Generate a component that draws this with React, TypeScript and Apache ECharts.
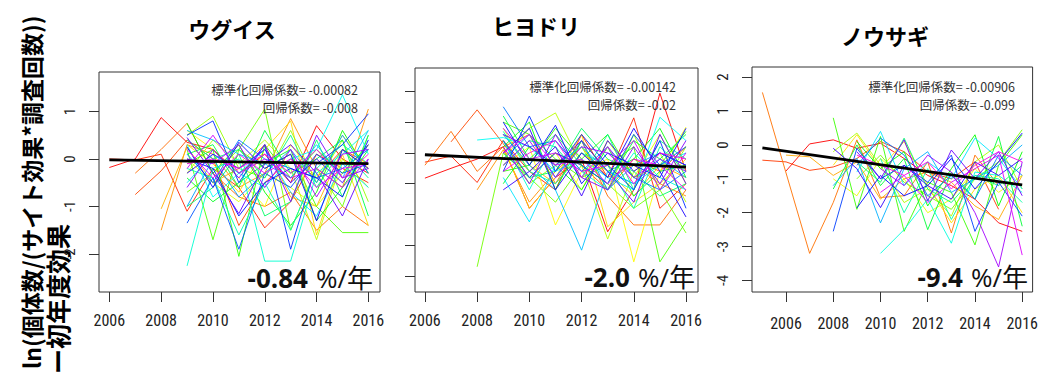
import React, { useEffect, useRef } from "react";
import * as echarts from "echarts";

// ---------- data ----------
const titles = ["ウグイス", "ヒヨドリ", "ノウサギ"];
const stdCoefLabels = ["標準化回帰係数= -0.00082", "標準化回帰係数= -0.00142", "標準化回帰係数= -0.00906"];
const coefLabels = ["回帰係数= -0.008", "回帰係数= -0.02", "回帰係数= -0.099"];
const rateValues = ["-0.84", "-2.0", "-9.4"];
const rateUnit = "%/年";
const yTitleLine1 = "ln(個体数/(サイト効果*調査回数))";
const yTitleLine2 = "ー初年度効果";

const xTickYears = [2006, 2008, 2010, 2012, 2014, 2016];
const yTicksUguisu = [-2, -1, 0, 1];
const yTicksHiyodori = [-2, -1.5, -1, -0.5, 0, 0.5, 1];
const yTicksNousagi = [-4, -3, -2, -1, 0, 1, 2];

// ウグイス
const uguisuStarts = [
  2006, 2006, 2007, 2007, 2008, 2008,
  2009, 2009, 2009, 2009, 2009, 2009, 2009, 2009, 2009, 2009, 2009, 2009, 2009, 2009, 2009,
  2009, 2009, 2009, 2009, 2009, 2009, 2009, 2009, 2009, 2009, 2009, 2009, 2009, 2009, 2009, 2009,
];
const uguisuValues: (number | null)[][] = [
  [-0.18, 0.0, 0.87, 0.35, 0.2, -0.3, 0.1, -0.5, 0.7, 0.0, -0.3],
  [0.0, -0.02, 0.1, -1.1, -0.2, -0.6, -1.45, -0.9, 0.1, -0.2, -0.5],
  [-0.75, -0.25, 0.4, 0.0, -1.4, -0.5, 0.0, -0.4, 0.2, -0.1],
  [-0.3, 0.2, 0.75, -0.3, -0.8, -1.0, -0.7, -1.5, -1.0, -1.4],
  [-1.5, 0.3, 0.1, -0.6, -0.3, 0.85, -0.2, -0.6, 1.05],
  [-1.05, 0.25, -0.5, -0.2, 0.3, -0.8, -1.0, 0.2, -0.2],
  [0.3, -0.1, -0.7, 0.2, 0.8, -1.6, 0.1, -1.4],
  [0.6, 0.2, -0.4, -1.0, 0.3, -0.4, 0.5, -0.2],
  [0.0, -0.5, -0.9, -0.3, -0.6, -1.0, -0.3, 0.3],
  [-0.3, 0.4, -0.1, 0.4, -0.2, -1.7, 0.0, -0.6],
  [0.5, 0.9, -0.2, -0.4, 0.6, -0.5, 0.4, -0.9],
  [-0.7, -0.3, 0.2, 1.05, -1.5, -0.2, -1.0, 0.5],
  [0.2, -1.7, 0.2, -0.2, 0.1, -1.0, -1.55, -1.55],
  [-0.1, 0.2, -2.05, 0.3, -0.4, 0.2, -0.3, 0.3],
  [0.75, -0.3, 0.3, -0.7, -1.4, -0.7, 0.6, -0.3],
  [-0.4, -0.9, -0.5, -0.1, 0.2, -1.3, -0.6, 0.2],
  [0.1, 0.3, -0.6, 0.6, -0.3, 0.0, 0.4, -1.2],
  [-1.0, -0.6, 0.1, -1.2, -0.9, 0.4, -0.8, 0.5],
  [0.4, 0.0, 0.2, -0.4, 0.5, -0.6, 0.2, -0.4],
  [-0.2, -0.4, -1.6, -0.5, -1.5, -0.2, 0.3, -0.1],
  [-2.25, -0.2, 0.0, -2.15, -2.15, -0.3, 0.1, 0.6],
  [0.3, -0.8, -0.3, -0.6, 0.0, 0.2, 1.35, 0.1],
  [-0.5, 0.1, -0.3, 0.2, -0.7, -1.2, -0.1, -0.6],
  [0.6, 0.4, 0.1, -0.1, -0.4, 0.3, -0.4, 0.6],
  [-1.0, 0.0, -0.8, -0.3, 0.2, -0.5, 0.5, -0.3],
  [0.1, -0.5, 0.4, 0.0, -0.2, -0.4, -0.2, 0.2],
  [-1.35, -0.4, -1.9, -0.3, -0.6, 0.1, -0.3, -0.1],
  [0.5, 0.8, -0.5, 0.3, -1.9, -0.1, 0.3, 0.95],
  [0.0, -0.2, -1.2, -0.5, -0.2, -0.4, -0.8, 0.4],
  [0.25, -0.6, 0.35, -0.2, 0.1, -1.3, 0.2, -0.2],
  [-0.3, 0.1, -0.2, 0.2, -0.5, 0.0, -0.5, 0.3],
  [0.45, -0.3, -1.15, -0.1, 0.3, -0.3, -1.2, 0.0],
  [-0.6, 0.2, -0.4, 0.3, -0.9, 0.5, -0.4, -0.2],
  [0.0, -0.1, 0.3, -0.6, 0.2, -0.8, 0.1, 0.2],
  [-0.2, 0.5, -0.3, 0.0, -0.4, -0.2, -0.6, 0.0],
  [0.2, -0.4, 0.1, -0.3, 0.0, -0.6, -0.2, -0.1],
  [-0.1, 0.0, -0.2, 0.1, -0.3, 0.2, -0.4, 0.1],
];
const uguisuTrend = [[2006, -0.02], [2016, -0.1]];

// ヒヨドリ
const hiyodoriStarts = [
  2006, 2006, 2007, 2006, 2008,
  2009, 2009, 2009, 2009, 2009, 2009, 2008, 2009, 2009, 2009, 2009, 2009, 2009, 2009, 2009,
  2009, 2008, 2009, 2009, 2009, 2009, 2009, 2009, 2009, 2009, 2009, 2009, 2009, 2009, 2009, 2009, 2009,
];
const hiyodoriValues: (number | null)[][] = [
  [-0.41, -0.25, -0.1, 0.1, -0.9, -0.4, -0.1, -1.28, -0.6, 0.97, -0.3],
  [-0.15, -0.05, -0.48, 0.2, -0.3, -0.6, 0.3, -0.4, 0.57, -0.9, -0.5],
  [0.18, 0.7, 0.15, -0.4, 0.0, -0.2, -0.6, -0.1, -0.3, 0.1],
  [-0.2, 0.35, -0.3, 0.1, 0.3, -0.5, 0.2, -0.7, -1.17, -1.17, -0.6],
  [-0.6, 0.05, -0.8, -0.3, 0.1, -0.4, -0.2, -0.5, -0.7],
  [0.3, -0.2, -0.5, 0.0, -0.3, -0.7, -0.2, -0.4],
  [0.1, -0.9, -0.4, 0.3, -1.2, -0.8, -0.5, -0.1],
  [-0.2, 0.1, -1.17, -0.3, -0.1, -1.77, -0.3, 0.42],
  [0.4, -0.3, 0.0, -0.6, 0.2, -0.4, 0.3, -0.5],
  [-0.1, 0.4, 0.65, -0.2, -1.4, -0.3, 0.0, -0.8],
  [0.2, -0.5, -0.2, 0.1, -0.6, 0.3, -0.6, 0.1],
  [-1.85, 0.0, -0.4, -0.8, -0.2, -0.5, -0.9, -0.6, -1.3],
  [0.5, 0.3, -0.1, -0.4, -0.2, 0.1, -1.77, -1.12],
  [-0.3, -0.2, 0.4, -0.1, 0.3, -0.4, -0.2, 0.35],
  [0.1, 0.5, -0.6, 0.2, -0.3, -0.1, 0.4, -0.4],
  [-0.5, 0.1, -0.2, -0.6, 0.1, -0.7, -0.3, -0.2],
  [0.6, -0.1, 0.3, -0.2, -0.5, 0.2, -0.1, 0.3],
  [0.0, -0.4, -0.3, 0.4, -0.1, -0.3, -0.7, -0.5],
  [-0.2, 0.2, 0.1, -0.4, 0.3, -0.6, 0.2, -0.1],
  [0.35, -0.3, -0.5, 0.0, -0.2, -0.9, 0.1, -0.3],
  [0.2, -0.6, 0.2, -0.3, -0.6, 0.0, -0.4, -0.6],
  [0.21, 0.25, 0.1, -0.3, -0.1, -0.4, -0.6, 0.58, 0.2],
  [-0.4, -1.12, -0.2, 0.1, -0.3, -0.5, -0.2, 0.0],
  [0.3, -0.2, -0.6, -1.58, -0.3, -0.5, -0.1, -0.4],
  [-0.1, 0.3, -0.4, 0.2, -0.6, -0.2, 0.0, -0.2],
  [0.75, 0.1, 0.2, -0.3, 0.1, -0.4, -0.6, -0.3],
  [0.2, -0.4, 0.0, -0.2, -0.5, 0.3, -0.2, 0.1],
  [-0.3, 0.6, -0.3, 0.3, -0.2, -0.6, 0.2, -0.9],
  [0.5, -0.2, 0.45, -0.5, 0.0, -0.2, -0.4, 0.4],
  [0.0, 0.4, -0.6, 0.0, -0.4, 0.4, -0.3, -1.04],
  [-0.6, -0.3, 0.1, -0.7, 0.2, -0.3, 0.0, -0.2],
  [0.3, 0.1, -0.2, 0.2, -0.3, -0.8, 0.3, -0.5],
  [0.1, -0.5, 0.3, -0.4, -0.6, 0.1, -0.5, 0.2],
  [-0.2, 0.2, -0.4, 0.1, 0.0, -0.4, -0.1, -0.3],
  [0.4, -0.1, 0.0, -0.3, -0.2, 0.2, -0.6, 0.0],
  [0.0, 0.3, -0.2, -0.1, -0.5, -0.1, -0.2, -0.6],
  [-0.3, 0.0, 0.2, -0.4, 0.1, -0.5, 0.0, -0.1],
];
const hiyodoriTrend = [[2006, -0.03], [2016, -0.23]];

// ノウサギ
const nousagiStarts = [
  2006, 2005, 2005, 2006, 2008, 2008, 2008, 2009, 2008, 2009, 2008, 2009,
  2010, 2010, 2009, 2008, 2009, 2008, 2009, 2008, 2009, 2010, 2010, 2009,
];
const nousagiValues: (number | null)[][] = [
  [-0.77, 0.03, 0.15, -0.1, 0.05, -0.4, -0.9, -1.2, -1.6, -2.3, -2.55],
  [-0.45, -0.5, -0.75, -0.65, -0.4, 0.1, -0.2, -0.8, -1.0, -0.5, -1.9],
  [1.55, null, -3.2, -1.7, 0.15, -1.55, -1.5, -0.5, -2.6, -0.3, -1.2],
  [-0.3, -0.35, -0.9, -0.5, -1.6, -1.0, -0.8, -1.1, -1.8, -2.2, -0.9],
  [-0.6, 0.3, -0.7, 0.1, -1.2, -2.3, -1.3, -0.9, -2.0],
  [-1.0, -1.5, -0.4, -1.0, -2.0, -1.6, -0.7, -1.4, -0.9],
  [-0.2, 0.35, -0.6, -1.7, -1.3, -2.1, -0.5, 0.0, -1.3],
  [-1.0, -0.3, -1.1, -1.5, -1.9, -1.0, -0.5, 0.45],
  [0.8, -1.9, 0.25, -2.55, -1.1, -1.4, -2.95, -0.6, 0.3],
  [0.1, -0.7, -0.2, -1.8, -0.7, 0.3, -1.8, -0.2],
  [-1.3, 0.0, -1.2, -0.4, -2.5, -0.8, -1.6, 0.25, -2.4],
  [-0.5, -1.1, 0.2, -1.3, -1.7, -0.9, -1.2, -0.6],
  [-0.4, -2.0, -0.7, -2.2, -0.9, -1.0, -1.7],
  [-3.2, -2.5, -1.6, -2.9, -0.8, -0.9, -1.4],
  [-0.8, 0.4, -1.2, -0.5, -1.0, 0.2, -0.4, -1.3],
  [-1.2, -0.4, -2.3, -0.7, -0.2, -1.4, -1.0, -0.6, 0.0],
  [-0.6, 0.2, -0.3, -1.5, -0.9, -1.6, -0.3, -0.9],
  [-2.55, -0.1, -1.0, -0.6, -1.1, -0.3, -2.55, -1.1, -2.1],
  [-1.86, -0.9, -1.5, -1.2, -0.4, -1.3, -0.5, 0.35],
  [-0.1, -0.7, -1.85, -0.6, -1.2, -1.6, -0.5, -0.9, -0.4],
  [-0.2, -1.0, 0.15, -1.65, -0.15, -1.0, -0.2, -1.5],
  [-0.7, -1.2, -0.3, -0.8, -2.0, -3.6, -0.5],
  [-1.4, -0.9, -1.7, -1.1, -0.7, -0.3, -3.25],
  [-0.3, -0.6, -0.9, -0.5, -1.3, -0.6, -0.2, -0.5],
];
const nousagiTrend = [[2005, -0.09], [2016, -1.18]];

// ---------- layout ----------
const panels = [
  {
    starts: uguisuStarts, values: uguisuValues, trend: uguisuTrend, yTicks: yTicksUguisu,
    grid: { left: 99, top: 72, width: 281, height: 220 },
    xMin: 2005.6, xMax: 2016.45, yMin: -2.8, yMax: 1.83, showYLabels: true,
    title: { x: 232, y: 28 }, ann: { x: 358, y1: 89, y2: 107 }, rate: { x: 373, y: 278 }, xLabelMargin: 20,
  },
  {
    starts: hiyodoriStarts, values: hiyodoriValues, trend: hiyodoriTrend, yTicks: yTicksHiyodori,
    grid: { left: 415, top: 68, width: 283, height: 224 },
    xMin: 2005.62, xMax: 2016.46, yMin: -2.26, yMax: 1.38, showYLabels: false,
    title: { x: 536, y: 25 }, ann: { x: 676, y1: 86, y2: 104 }, rate: { x: 695, y: 277 }, xLabelMargin: 20,
  },
  {
    starts: nousagiStarts, values: nousagiValues, trend: nousagiTrend, yTicks: yTicksNousagi,
    grid: { left: 752, top: 67, width: 283, height: 225 },
    xMin: 2004.56, xMax: 2016.44, yMin: -4.34, yMax: 2.3, showYLabels: true,
    title: { x: 885, y: 35 }, ann: { x: 1015, y1: 86, y2: 104 }, rate: { x: 1028, y: 277 }, xLabelMargin: 23,
  },
];

const narrowFont = '"Liberation Sans Narrow", "Roboto Condensed", "DejaVu Sans Condensed", Roboto, sans-serif';
const cjkFont = '"Noto Sans CJK JP", "Noto Sans", sans-serif';

function rainbow(i: number, n: number): string {
  const h = n > 1 ? (i / (n - 1)) * 305 : 0;
  return `hsl(${h.toFixed(1)}, 100%, 50%)`;
}

function buildOption() {
  const grids: any[] = [];
  const xAxes: any[] = [];
  const yAxes: any[] = [];
  const series: any[] = [];
  const graphics: any[] = [];

  panels.forEach((p, pi) => {
    grids.push({ ...p.grid, show: true, borderColor: "#333", borderWidth: 1, backgroundColor: "transparent", containLabel: false });
    xAxes.push({
      type: "value", gridIndex: pi, min: p.xMin, max: p.xMax, position: "bottom",
      axisLine: { show: false, onZero: false }, splitLine: { show: false },
      axisTick: { show: true, length: 10, customValues: xTickYears, lineStyle: { color: "#333", width: 1 } },
      axisLabel: { show: true, customValues: xTickYears, margin: p.xLabelMargin, fontSize: 16, color: "#222", fontFamily: narrowFont, formatter: (v: number) => String(v) },
    });
    yAxes.push({
      type: "value", gridIndex: pi, min: p.yMin, max: p.yMax, position: "left",
      axisLine: { show: false, onZero: false }, splitLine: { show: false },
      axisTick: { show: true, length: 10, customValues: p.yTicks, lineStyle: { color: "#333", width: 1 } },
      axisLabel: { show: p.showYLabels, customValues: p.yTicks, rotate: 90, margin: 22, fontSize: 15, color: "#222", fontFamily: narrowFont },
    });
    const n = p.values.length;
    p.values.forEach((vals, i) => {
      const start = p.starts[i];
      const data = vals
        .map((v, k) => [start + k, v] as [number, number | null])
        .filter((d) => d[1] !== null);
      series.push({
        type: "line", xAxisIndex: pi, yAxisIndex: pi, data, symbol: "none", showSymbol: false,
        silent: true, z: 2, lineStyle: { width: 1, color: rainbow(i, n), opacity: 0.9 },
      });
    });
    series.push({
      type: "line", xAxisIndex: pi, yAxisIndex: pi, data: p.trend, symbol: "none", showSymbol: false,
      silent: true, z: 5, lineStyle: { width: 2.8, color: "#000" },
    });

    graphics.push({
      type: "text", x: p.title.x, y: p.title.y,
      style: { text: titles[pi], align: "center", verticalAlign: "middle", fontSize: 22, fontWeight: "bold", fontFamily: cjkFont, fill: "#000" },
    });
    graphics.push({
      type: "text", x: p.ann.x, y: p.ann.y1, z: 10,
      style: { text: stdCoefLabels[pi], align: "right", verticalAlign: "middle", fontSize: 12.5, fontFamily: cjkFont, fill: "#333" },
    });
    graphics.push({
      type: "text", x: p.ann.x, y: p.ann.y2, z: 10,
      style: { text: coefLabels[pi], align: "right", verticalAlign: "middle", fontSize: 12.5, fontFamily: cjkFont, fill: "#333" },
    });
    graphics.push({
      type: "text", x: p.rate.x, y: p.rate.y, z: 10,
      style: {
        text: `{b|${rateValues[pi]}}{s| }{n|${rateUnit}}`, align: "right", verticalAlign: "middle",
        rich: {
          b: { fontSize: 26, fontWeight: "bold", fontFamily: '"Open Sans", ' + cjkFont, fill: "#111" },
          s: { fontSize: 26, width: 8 },
          n: { fontSize: 26, fontWeight: "normal", fontFamily: '"Open Sans", ' + cjkFont, fill: "#111" },
        },
      },
    });
  });

  graphics.push({
    type: "text", x: 31, y: 369, rotation: Math.PI / 2,
    style: { text: yTitleLine1, align: "left", verticalAlign: "middle", fontSize: 23, fontWeight: "bold", fontFamily: cjkFont, fill: "#000" },
  });
  graphics.push({
    type: "text", x: 57, y: 374, rotation: Math.PI / 2,
    style: { text: yTitleLine2, align: "left", verticalAlign: "middle", fontSize: 25, fontWeight: "bold", fontFamily: cjkFont, fill: "#000" },
  });

  return {
    animation: false,
    backgroundColor: "#fff",
    grid: grids,
    xAxis: xAxes,
    yAxis: yAxes,
    series,
    graphic: graphics,
  };
}

export default function App() {
  const ref = useRef<HTMLDivElement>(null);
  useEffect(() => {
    document.body.style.margin = "0";
    if (!ref.current) return;
    const chart = echarts.init(ref.current, undefined, { renderer: "svg" });
    chart.setOption(buildOption() as any);
    return () => chart.dispose();
  }, []);
  return <div ref={ref} style={{ width: 1041, height: 374 }} />;
}
